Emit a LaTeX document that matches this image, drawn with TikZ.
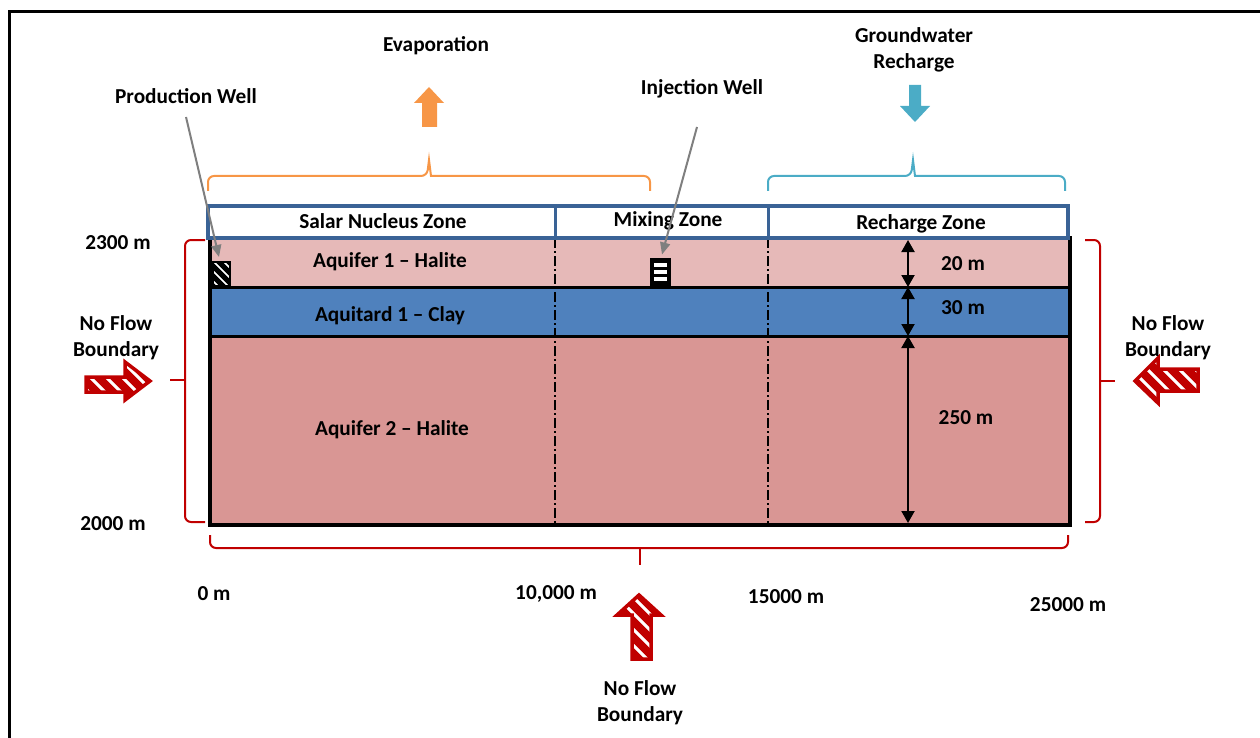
\documentclass[tikz,border=0pt]{standalone}
\usepackage{fontspec}
\setmainfont{Carlito}
\usetikzlibrary{arrows.meta,calc}
\definecolor{hdrblue}{HTML}{3A6396}
\definecolor{aqone}{HTML}{E6B9B8}
\definecolor{aqtard}{HTML}{4F81BD}
\definecolor{aqtwo}{HTML}{D99694}
\definecolor{evap}{HTML}{F79646}
\definecolor{rech}{HTML}{4BACC6}
\definecolor{bred}{HTML}{C00000}
\definecolor{wgray}{HTML}{7F7F7F}
\begin{document}
\begin{tikzpicture}[x=1pt,y=-1pt,
  lbl/.style={font=\fontsize{21.3}{26}\selectfont\bfseries, inner sep=0pt, align=center},
  brace/.style={line width=2pt, rounded corners=6pt},
  hatcharrow/.style={draw=bred, line width=3.5pt, line join=miter, fill=white,
    path picture={\foreach \i in {-128,-112,...,128}
      \draw[bred, line width=8pt] ($(path picture bounding box.center)+(\i-60,-60)$) -- ++(120,120);}},
  dim/.style={line width=2pt, {Triangle[length=12pt,width=13pt]}-{Triangle[length=12pt,width=13pt]}},
  pointer/.style={wgray, line width=2pt, -{Triangle[length=12pt,width=10pt]}},
  zoneline/.style={line width=1.5pt, dash pattern=on 10pt off 3pt on 2pt off 3pt}
]
\useasboundingbox (0,0) rectangle (1260,738);
% outer frame
\draw[line width=3pt] (9,738) -- (9,12) -- (1260,12);

% layers
\fill[aqone] (210,238) rectangle (1070,287);
\fill[aqtard] (210,287) rectangle (1070,336);
\fill[aqtwo] (210,336) rectangle (1070,525);
\draw[zoneline] (555,238) -- (555,525);
\draw[zoneline] (768,238) -- (768,525);
\draw[line width=3pt] (210,287) -- (1070,287);
\draw[line width=3pt] (210,336) -- (1070,336);
\draw[line width=4pt] (210,238) rectangle (1070,525);

% header
\draw[hdrblue, fill=white, line width=4pt] (208,206) rectangle (1068,238);
\draw[hdrblue, line width=3pt] (555,206) -- (555,238);
\draw[hdrblue, line width=3pt] (768,206) -- (768,238);
\node[lbl] (salar) at (383,221) {Salar Nucleus Zone};
\node[lbl] (mixing) at (668,221) {Mixing Zone};
\node[lbl] (rzone) at (921,224) {Recharge Zone};

% layer labels
\node[lbl] (aq1) at (390,262) {Aquifer 1 -- Halite};
\node[lbl] (aqt) at (390,316) {Aquitard 1 -- Clay};
\node[lbl] (aq2) at (392,430) {Aquifer 2 -- Halite};

% thickness dims
\coordinate (d0) at (908,240);
\coordinate (d1) at (908,287);
\coordinate (d2) at (908,336);
\coordinate (d3) at (908,523);
\draw[dim] (d0) -- (d1);
\draw[dim] (d1) -- (d2);
\draw[dim] (d2) -- (d3);
\node[lbl] (t20) at (963,264) {20 m};
\node[lbl] (t30) at (963,308) {30 m};
\node[lbl] (t250) at (966,418) {250 m};

% wells
\node[draw, fill=white, line width=2pt, minimum width=17pt, minimum height=24pt, inner sep=0pt,
  path picture={\foreach \i in {-30,-20,...,30}
    \draw[line width=5pt] ($(path picture bounding box.center)+(\i-20,-20)$) -- ++(40,40);}]
  (pw) at (221,274) {};
\node[draw, fill=black, line width=2pt, minimum width=19pt, minimum height=27pt, inner sep=0pt,
  path picture={\foreach \j in {-7,0,7}
    \fill[white] ($(path picture bounding box.center)+(-6.5,\j-2.2)$) rectangle ++(13,4.4);}]
  (iw) at (660,272) {};
\node[lbl] (pwl) at (186,96) {Production Well};
\node[lbl] (iwl) at (702,89) {Injection Well};
\coordinate (pws) at (186,117);
\coordinate (iws) at (697,127);
\draw[pointer] (pws) -- ($(pw.north)+(-2,-4)$);
\draw[pointer] (iws) -- ($(iw.north)+(2,-3)$);

% evaporation
\node[lbl] (evl) at (436,46) {Evaporation};
\fill[evap] (422,127) -- (422,103) -- (414,103) -- (429,87) -- (444,103) -- (437,103) -- (437,127) -- cycle;
\draw[evap, brace] (208,191) -- (208,176) -- (427,176) [sharp corners] -- (429,160) -- (431,176) [rounded corners=6pt] -- (650,176) -- (650,191);

% recharge
\node[lbl] (grl) at (914,50) {Groundwater\\Recharge};
\fill[rech] (909,85) -- (921,85) -- (921,106) -- (930,106) -- (915,122) -- (900,106) -- (909,106) -- cycle;
\draw[rech, brace] (768,191) -- (768,176) -- (911,176) [sharp corners] -- (913,160) -- (915,176) [rounded corners=6pt] -- (1065,176) -- (1065,191);

% red brackets
\draw[bred, brace] (205,240) -- (185,240) -- (185,522) -- (205,522);
\draw[bred, line width=2pt] (185,380) -- (170,380);
\draw[bred, brace] (1085,240) -- (1100,240) -- (1100,522) -- (1085,522);
\draw[bred, line width=2pt] (1100,381) -- (1115,381);
\draw[bred, brace] (210,535) -- (210,548) -- (1068,548) -- (1068,535);
\draw[bred, line width=2pt] (640,548) -- (640,565);

% no flow arrows
\path[hatcharrow] (86,377) -- (125,377) -- (125,362) -- (150,381) -- (125,400) -- (125,392) -- (86,392) -- cycle;
\path[hatcharrow] (1198,369) -- (1158,369) -- (1158,358) -- (1135,381) -- (1158,403) -- (1158,391) -- (1198,391) -- cycle;
\path[hatcharrow] (632,659) -- (632,615) -- (617,615) -- (639,595) -- (661,615) -- (651,615) -- (651,659) -- cycle;
\node[lbl] (nfl) at (116,338) {No Flow\\Boundary};
\node[lbl] (nfr) at (1168,338) {No Flow\\Boundary};
\node[lbl] (nfb) at (640,703) {No Flow\\Boundary};

% elevations and distances
\node[lbl] (e2300) at (118,243) {2300 m};
\node[lbl] (e2000) at (113,524) {2000 m};
\node[lbl] (x0) at (214,594) {0 m};
\node[lbl] (x10) at (556,594) {10,000 m};
\node[lbl] (x15) at (786,597) {15000 m};
\node[lbl] (x25) at (1068,605) {25000 m};
\end{tikzpicture}
\end{document}
